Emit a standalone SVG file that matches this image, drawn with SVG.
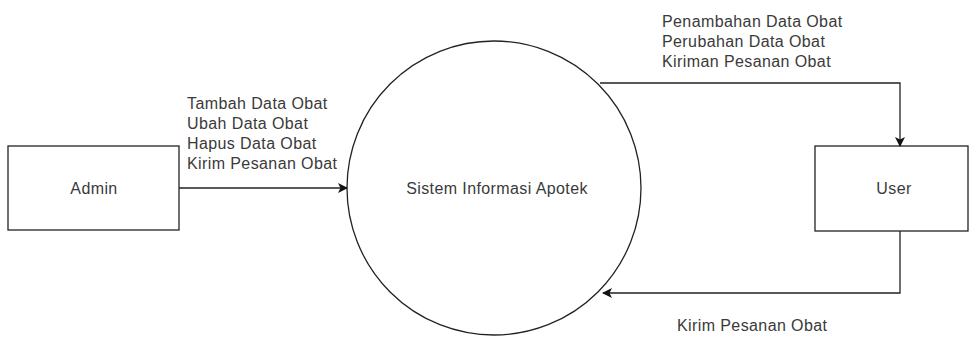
<svg xmlns="http://www.w3.org/2000/svg" width="975" height="337" viewBox="0 0 975 337">
<defs>
<style>
.box{fill:#fff;stroke:#222;stroke-width:1.3}
.lbl{font-family:"Liberation Sans",Arial,sans-serif;font-size:16px;letter-spacing:0.4px;fill:#3a3a3a}
.edge{fill:none;stroke:#222;stroke-width:1.3}
</style>
<marker id="arr" viewBox="0 0 10 10" refX="9" refY="5" markerWidth="10" markerHeight="10" markerUnits="userSpaceOnUse" orient="auto">
<path d="M0,0 L10,5 L0,10 L2.5,5 Z" fill="#111"/>
</marker>
</defs>
<rect width="975" height="337" fill="#fff"/>
<g id="admin">
<rect class="box" x="8" y="146" width="171" height="84"/>
<text class="lbl" x="94" y="194" text-anchor="middle">Admin</text>
</g>
<g id="sistem">
<circle class="box" cx="494" cy="188" r="147"/>
<text class="lbl" x="497" y="194" text-anchor="middle">Sistem Informasi Apotek</text>
</g>
<g id="user">
<rect class="box" x="815" y="146" width="153" height="85"/>
<text class="lbl" x="894" y="194" text-anchor="middle">User</text>
</g>
<g id="connectors">
<path class="edge" d="M179,188 L347,188" marker-end="url(#arr)"/>
<path class="edge" d="M600,83 L900,83 L900,146" marker-end="url(#arr)"/>
<path class="edge" d="M900,231 L900,293 L603,293" marker-end="url(#arr)"/>
<text class="lbl"><tspan x="187" y="109">Tambah Data Obat</tspan><tspan x="187" y="129">Ubah Data Obat</tspan><tspan x="187" y="149">Hapus Data Obat</tspan><tspan x="187" y="169">Kirim Pesanan Obat</tspan></text>
<text class="lbl"><tspan x="662" y="27">Penambahan Data Obat</tspan><tspan x="662" y="47">Perubahan Data Obat</tspan><tspan x="662" y="67">Kiriman Pesanan Obat</tspan></text>
<text class="lbl" x="677" y="331">Kirim Pesanan Obat</text>
</g>
</svg>
